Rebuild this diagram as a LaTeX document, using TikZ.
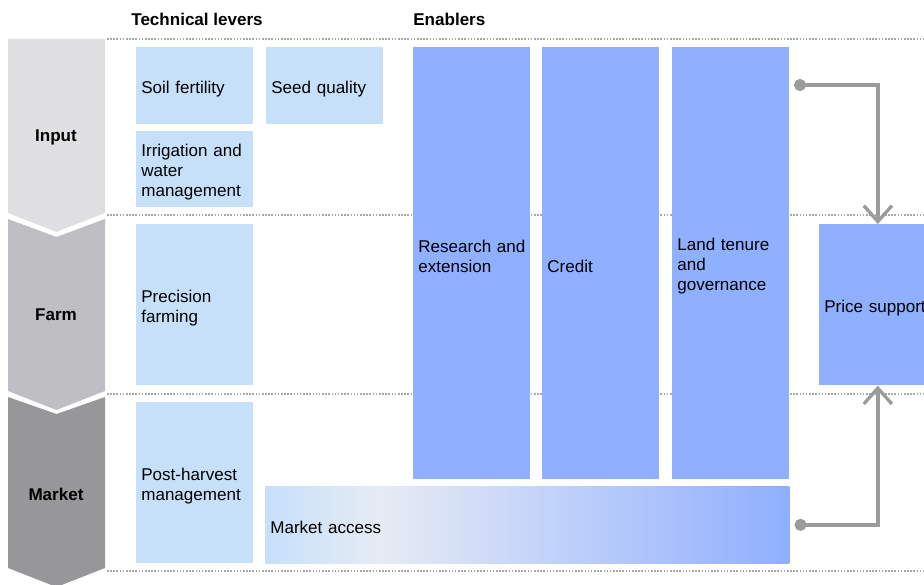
\documentclass[tikz,border=0pt]{standalone}
\usepackage{fontspec}
\setmainfont{Liberation Sans}
\usepackage{tikz}
\usetikzlibrary{arrows.meta, positioning, calc}
\definecolor{inputgray}{HTML}{DFDFE1}
\definecolor{farmgray}{HTML}{BFBFC3}
\definecolor{marketgray}{HTML}{97979A}
\definecolor{leverblue}{HTML}{C6E0FA}
\definecolor{enablerblue}{HTML}{8FAFFF}
\definecolor{washwhite}{HTML}{E6EBF4}
\definecolor{linkgray}{HTML}{9B9B9B}
\definecolor{rulegray}{HTML}{A8A8A8}
\pgfdeclarehorizontalshading{accessfade}{100bp}{color(0bp)=(leverblue); color(25bp)=(leverblue); color(36bp)=(washwhite); color(75bp)=(enablerblue); color(100bp)=(enablerblue)}

\tikzset{
    box/.style={inner xsep=0.1cm, inner ysep=0pt, text width=2.14cm, align=left,
        anchor=north west, font={\fontsize{9.7}{11.4}\selectfont},
        execute at begin node={\rule{0pt}{10.5pt}}},
    lever/.style={box, fill=leverblue},
    enabler/.style={box, fill=enablerblue},
    stage/.style={font={\fontsize{9.7}{11.4}\selectfont\bfseries}},
    header/.style={inner sep=0pt, anchor=west, font={\fontsize{9.7}{11.4}\selectfont\bfseries}},
    rule/.style={draw=rulegray, line width=0.9pt, dash pattern=on 0.9pt off 0.9pt},
    link/.style={draw=linkgray, line width=1.9pt,
        {Circle[length=6.8pt]}-{Straight Barb[length=9pt, width=16pt]}}
}

\begin{document}
\begin{tikzpicture}[x=0.02cm, y=-0.02cm, >=Stealth]
    \useasboundingbox (0,0) rectangle (924,585);

    % ── Column heads and row rules ───────────────────────────────────
    \node[header] (levers) at (131,19) {Technical levers};
    \node[header] (enablers) at (413,19) {Enablers};
    \foreach \y in {39,215,394,571}
        \draw[rule] (107,\y) -- (924,\y);

    % ── Value chain stages ───────────────────────────────────────────
    \fill[inputgray] (8,39) -- (105,39) -- (105,213) -- (56.5,232) -- (8,213) -- cycle;
    \node[stage] (input) at (56,137) {Input};

    \fill[farmgray] (8,219) -- (56.5,237) -- (105,219) -- (105,391) -- (56.5,410) -- (8,391) -- cycle;
    \node[stage] (farm) at (56,315) {Farm};

    \fill[marketgray] (8,397) -- (56.5,414) -- (105,397) -- (105,568) -- (56.5,587) -- (8,568) -- cycle;
    \node[stage] (market) at (56,494) {Market};

    % ── Technical levers ─────────────────────────────────────────────
    \node[lever, minimum height=1.54cm] (soil) at (136,47) {Soil fertility};
    \node[lever, minimum height=1.54cm] (seed) at (266,47) {Seed quality};
    \node[lever, minimum height=1.52cm] (irrigation) at (136,131) {Irrigation and\\water\\management};
    \node[lever, minimum height=3.22cm] (precision) at (136,224) {Precision\\farming};
    \node[lever, minimum height=3.22cm] (postharvest) at (136,402) {Post-harvest\\management};
    \node[box, shade, shading=accessfade, text width=10.28cm, minimum height=1.54cm]
        (access) at (265,486) {Market access};

    % ── Enablers ─────────────────────────────────────────────────────
    \node[enabler, minimum height=8.64cm] (research) at (413,47) {Research~and\\extension\\\mbox{}};
    \node[enabler, minimum height=8.64cm] (credit) at (542,47) {Credit};
    \node[enabler, minimum height=8.64cm] (land) at (672,47) {Land tenure\\and\\governance};
    \node[enabler, minimum height=3.22cm] (price) at (819,224) {Price support};

    % Links into price support
    \coordinate (landtap) at (794,85);
    \coordinate (accesstap) at ($(access.east)+(5,0)$);
    \draw[link] (landtap) -| (price.north);
    \draw[link] (accesstap) -| (price.south);
\end{tikzpicture}
\end{document}
